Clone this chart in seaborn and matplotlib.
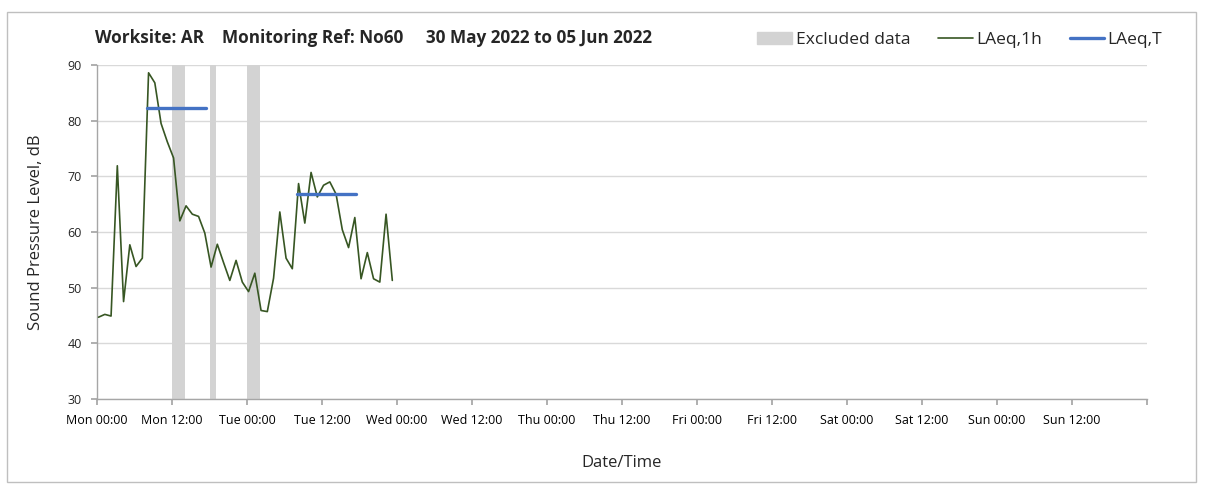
import matplotlib
matplotlib.use("Agg")
import matplotlib.pyplot as plt
import matplotlib.patches as mpatches
import matplotlib.lines as mlines
import seaborn as sns
import numpy as np
import pandas as pd

# ---- data ----
hours = list(range(48))
laeq_1h = [44.7, 45.2, 44.9, 71.9, 47.5, 57.7, 53.8, 55.3, 88.6, 86.8,
           79.5, 76.2, 73.3, 62.0, 64.7, 63.2, 62.8, 59.8, 53.7, 57.8,
           54.5, 51.3, 54.9, 51.0, 49.3, 52.6, 45.9, 45.7, 51.7, 63.6,
           55.3, 53.4, 68.7, 61.6, 70.7, 66.3, 68.4, 69.0, 66.8, 60.4,
           57.2, 62.6, 51.6, 56.3, 51.6, 51.0, 63.2, 51.3]
laeq_t_start = [8.0, 32.0]
laeq_t_end = [17.5, 41.5]
laeq_t_value = [82.3, 66.8]
excl_start = [12.0, 18.0, 24.0]
excl_end = [14.0, 19.0, 26.0]
tick_labels = ["Mon 00:00", "Mon 12:00", "Tue 00:00", "Tue 12:00", "Wed 00:00",
               "Wed 12:00", "Thu 00:00", "Thu 12:00", "Fri 00:00", "Fri 12:00",
               "Sat 00:00", "Sat 12:00", "Sun 00:00", "Sun 12:00", ""]
title_text = "Worksite: AR    Monitoring Ref: No60     30 May 2022 to 05 Jun 2022"

GREEN = "#375623"
BLUE = "#4472C4"
GREY = "#d3d3d3"
GRID = "#d9d9d9"

sns.set_theme(style="white")
plt.rcParams["font.family"] = ["Open Sans", "DejaVu Sans"]

fig = plt.figure(figsize=(12.08, 4.94), dpi=100)
ax = fig.add_axes([97/1208, 1-399/494, (1147-97)/1208, (399-65)/494])

# excluded bands
for s, e in zip(excl_start, excl_end):
    ax.axvspan(s, e, color=GREY, lw=0, zorder=1)

x_offset = 0.25
df = pd.DataFrame({"h": np.array(hours) + x_offset, "v": laeq_1h})
sns.lineplot(data=df, x="h", y="v", ax=ax, color=GREEN, lw=1.2, zorder=3)

seg = pd.DataFrame({
    "h": laeq_t_start + laeq_t_end,
    "v": laeq_t_value + laeq_t_value,
    "seg": [0, 1, 0, 1],
})
sns.lineplot(data=seg, x="h", y="v", units="seg", estimator=None, ax=ax,
             color=BLUE, lw=2.4, zorder=4)

ax.set_xlim(0, 168)
ax.set_ylim(30, 90)
ax.set_xticks(np.arange(0, 169, 12))
ax.set_xticklabels(tick_labels, fontsize=9)
ax.set_xticks(np.arange(0, 169, 24), minor=True)
ax.set_yticks(np.arange(30, 91, 10))
ax.set_yticklabels([str(v) for v in range(30, 91, 10)], fontsize=9)
ax.grid(False)
ax.grid(True, which="minor", axis="x", color=GRID, lw=1, zorder=0)
ax.grid(True, which="major", axis="y", color=GRID, lw=1, zorder=0)
ax.tick_params(axis="x", which="major", length=4, color="#a6a6a6", direction="out",
               bottom=True, pad=7, labelcolor="#000000")
ax.tick_params(axis="x", which="minor", length=0)
ax.tick_params(axis="y", length=4, color="#a6a6a6", direction="out", left=True,
               pad=7)
for sp in ["top", "right"]:
    ax.spines[sp].set_visible(False)
for sp in ["left", "bottom"]:
    ax.spines[sp].set_color("#a6a6a6")
    ax.spines[sp].set_linewidth(1)
ax.set_axisbelow(True)

ax.set_xlabel("Date/Time", fontsize=12, labelpad=20)
ax.set_ylabel("Sound Pressure Level, dB", fontsize=12, labelpad=17)

fig.text(95/1208, 1-38/494, title_text, fontsize=12.3, fontweight="bold",
         ha="left", va="center")

handles = [mpatches.Patch(color=GREY, label="Excluded data"),
           mlines.Line2D([], [], color=GREEN, lw=1.2, label="LAeq,1h"),
           mlines.Line2D([], [], color=BLUE, lw=2.4, label="LAeq,T")]
fig.legend(handles=handles, loc="center right", bbox_to_anchor=(1178/1208, 1-40/494),
           ncol=3, frameon=False, fontsize=12.5, handlelength=2.0,
           handletextpad=0.2, columnspacing=1.6)

fig.add_artist(mpatches.Rectangle((7/1208, 12/494), (1196-7)/1208, (482-12)/494,
                                  transform=fig.transFigure, fill=False,
                                  edgecolor="#bfbfbf", lw=1))

fig.savefig("out.png", dpi=100)
